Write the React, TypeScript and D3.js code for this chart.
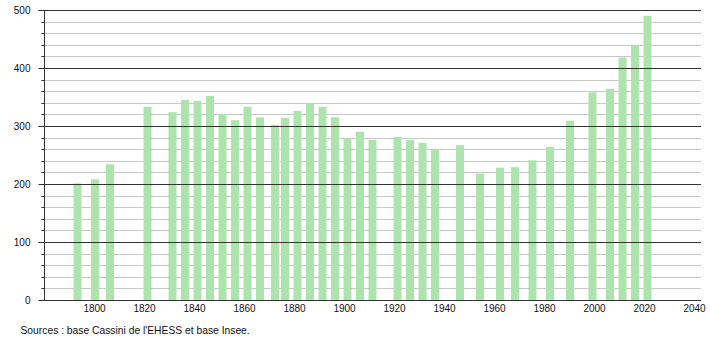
import React from "react";
import * as d3 from "d3";

const years = [1793, 1800, 1806, 1821, 1831, 1836, 1841, 1846, 1851, 1856, 1861, 1866, 1872, 1876, 1881, 1886, 1891, 1896, 1901, 1906, 1911, 1921, 1926, 1931, 1936, 1946, 1954, 1962, 1968, 1975, 1982, 1990, 1999, 2006, 2011, 2016, 2021];
const population = [201, 208, 234, 333, 324, 345, 343, 352, 321, 310, 333, 315, 302, 314, 326, 339, 333, 315, 279, 290, 276, 281, 276, 271, 259, 267, 218, 228, 229, 241, 264, 309, 358, 364, 418, 439, 490];
const xTicks = [1800, 1820, 1840, 1860, 1880, 1900, 1920, 1940, 1960, 1980, 2000, 2020, 2040];
const yMajorTicks = [0, 100, 200, 300, 400, 500];
const sourceText = "Sources : base Cassini de l'EHESS et base Insee.";

const W = 710;
const H = 340;
const FONT = "'Liberation Sans', Arial, sans-serif";

export default function App() {
  const x = d3.scaleLinear().domain([1780, 2042.6]).range([44.5, 701]);
  const y = d3.scaleLinear().domain([0, 500]).range([300, 10]);
  const minorTicks = d3.range(0, 501, 20).filter((v) => v % 100 !== 0);
  const barW = 8;
  const x0 = 44.5;
  const x1 = 701;

  return (
    <svg
      width={W}
      height={H}
      style={{ position: "absolute", left: 0, top: 0, background: "#fff" }}
      fontFamily={FONT}
    >
      {minorTicks.map((v) => (
        <g key={"m" + v}>
          <line x1={x0} x2={x1} y1={Math.round(y(v)) + 0.5} y2={Math.round(y(v)) + 0.5} stroke="#c8c8c8" strokeWidth={1} />
          <line x1={41.5} x2={x0} y1={Math.round(y(v)) + 0.5} y2={Math.round(y(v)) + 0.5} stroke="#333" strokeWidth={1} />
        </g>
      ))}
      {population.map((v, i) => (
        <rect
          key={years[i]}
          x={x(years[i]) + 0.5 - barW / 2}
          y={y(v)}
          width={barW}
          height={y(0) - y(v)}
          fill="#ade4ad"
        />
      ))}
      {yMajorTicks.map((v) => (
        <g key={"M" + v}>
          <line x1={38.5} x2={x1} y1={Math.round(y(v)) + 0.5} y2={Math.round(y(v)) + 0.5} stroke="#333" strokeWidth={1} />
          <text x={30.5} y={y(v)} dy="0.35em" textAnchor="end" fontSize={10} fill="#111">
            {v}
          </text>
        </g>
      ))}
      <line x1={x0} x2={x0} y1={y(500)} y2={y(0) + 0.5} stroke="#333" strokeWidth={1} />
      {xTicks.map((t) => (
        <text key={"x" + t} x={x(t)} y={311.5} textAnchor="middle" fontSize={10} fill="#111">
          {t}
        </text>
      ))}
      <text x={20.5} y={334} fontSize={10.3} fill="#111">
        {sourceText}
      </text>
    </svg>
  );
}
